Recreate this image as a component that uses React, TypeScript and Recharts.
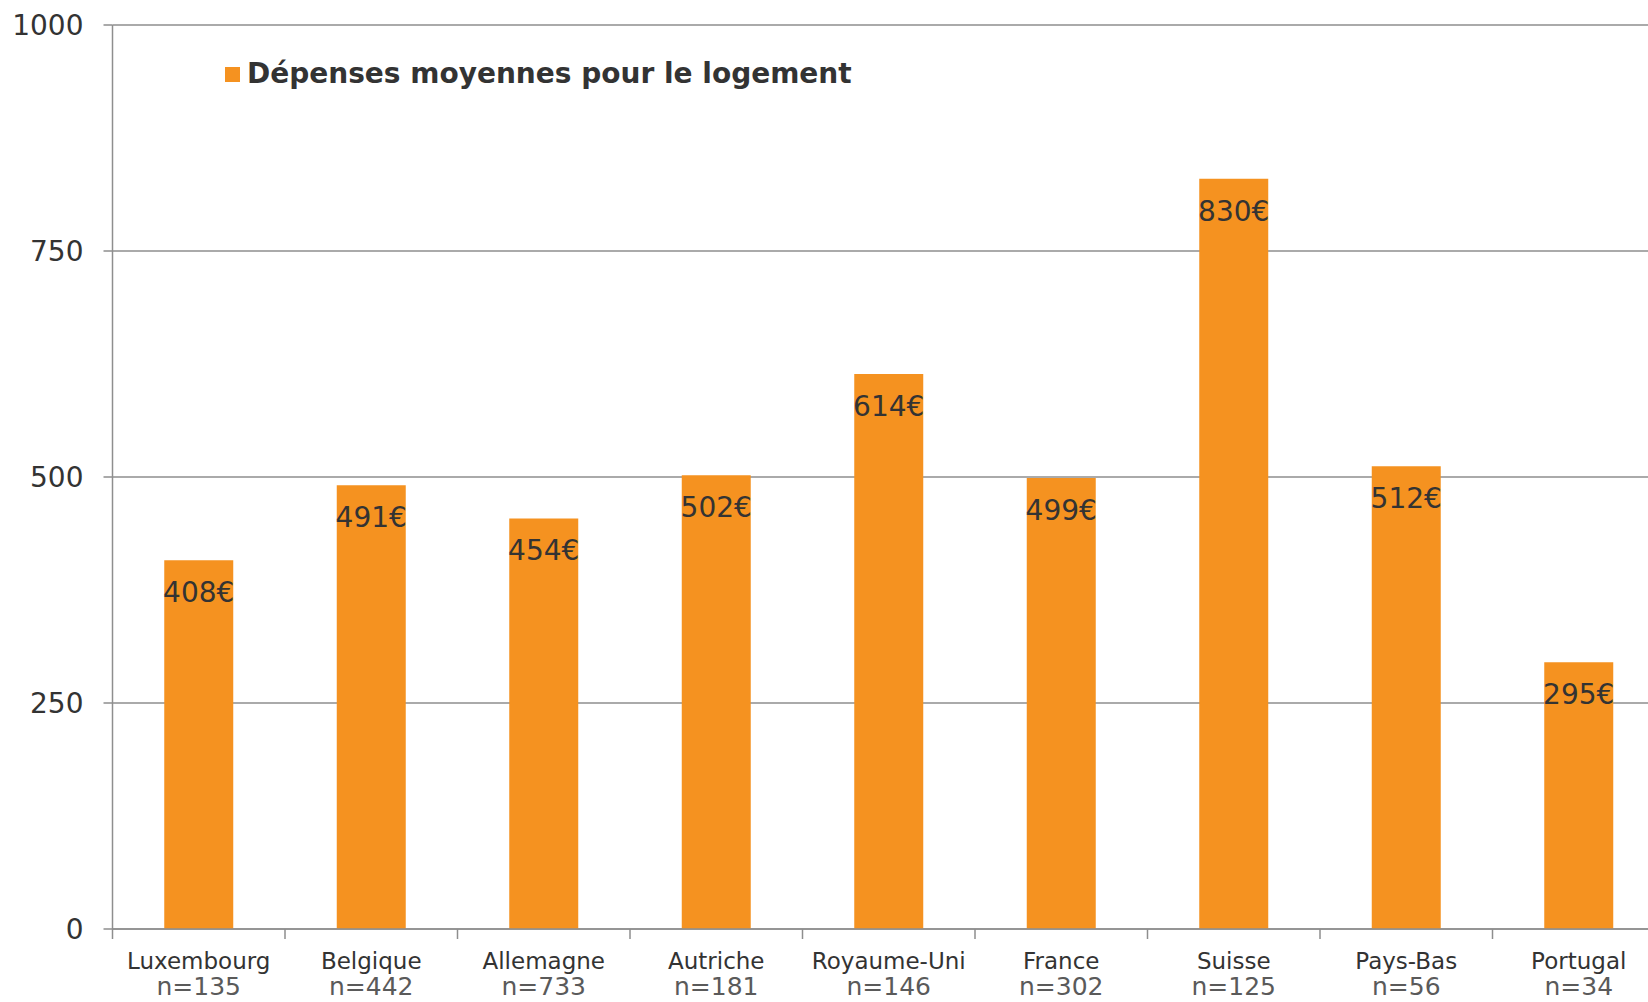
import React from "react";
import { BarChart, Bar, XAxis, YAxis, CartesianGrid, Legend, LabelList } from "recharts";

const countries = ["Luxembourg", "Belgique", "Allemagne", "Autriche", "Royaume-Uni", "France", "Suisse", "Pays-Bas", "Portugal"];
const sampleSizes = ["n=135", "n=442", "n=733", "n=181", "n=146", "n=302", "n=125", "n=56", "n=34"];
const housingSpend = [408, 491, 454, 502, 614, 499, 830, 512, 295];
const yTicks = [0, 250, 500, 750, 1000];
const seriesName = "Dépenses moyennes pour le logement";

const data = countries.map((c, i) => ({ country: c, n: sampleSizes[i], value: housingSpend[i] }));

const CHART_W = 1700;
const CHART_H = 1002;
const MARGIN = { top: 25, right: 35, left: 0, bottom: 0 };
const Y_W = 112.5;
const PLOT_W = CHART_W - MARGIN.left - MARGIN.right - Y_W;
const HALF_BAND = PLOT_W / countries.length / 2;

const AXIS_GREY = "#8e8e8e";
const BAR_COLOR = "#F59220";

const XTick = (props: any) => {
  const { x, y, payload } = props;
  const idx = payload.index;
  return (
    <g>
      <line x1={x - HALF_BAND} x2={x - HALF_BAND} y1={y} y2={y + 10} stroke={AXIS_GREY} strokeWidth={1.5} />
      <text x={x} y={y + 40} textAnchor="middle" fontSize={23} fill="#333">{payload.value}</text>
      <text x={x} y={y + 66} textAnchor="middle" fontSize={25} fill="#5a5a5a">{sampleSizes[idx]}</text>
    </g>
  );
};

const LegendContent = () => (
  <div style={{ display: "flex", alignItems: "center", height: 0, overflow: "visible" }}>
    <div style={{ width: 15, height: 15, background: BAR_COLOR, marginRight: 7, flex: "none" }} />
    <span style={{ fontWeight: "bold", fontSize: 28, color: "#333", fontFamily: "DejaVu Sans", lineHeight: "30px", whiteSpace: "nowrap" }}>{seriesName}</span>
  </div>
);

export default function App() {
  return (
    <div style={{ position: "fixed", left: 0, top: 0, width: 1648, height: 1002, overflow: "hidden", background: "#fff", fontFamily: "DejaVu Sans" }}>
      <BarChart width={CHART_W} height={CHART_H} data={data} margin={MARGIN} barCategoryGap="30%">
        <CartesianGrid vertical={false} stroke={AXIS_GREY} strokeWidth={1.5} />
        <XAxis
          dataKey="country"
          height={73}
          tickLine={false}
          tickSize={0}
          tickMargin={0}
          axisLine={{ stroke: AXIS_GREY, strokeWidth: 1.5 }}
          tick={<XTick />}
          interval={0}
        />
        <YAxis
          width={Y_W}
          domain={[0, 1000]}
          ticks={yTicks}
          tickSize={9}
          tickMargin={20}
          axisLine={{ stroke: AXIS_GREY, strokeWidth: 1.5 }}
          tickLine={{ stroke: AXIS_GREY, strokeWidth: 1.5 }}
          tick={{ fontSize: 28, fill: "#333" }}
        />
        <Legend content={<LegendContent />} wrapperStyle={{ position: "absolute", top: 74, left: 225, width: "auto", height: 0, overflow: "visible" }} />
        <Bar dataKey="value" name={seriesName} fill={BAR_COLOR} isAnimationActive={false}>
          <LabelList dataKey="value" position="insideTop" offset={22} formatter={(v: any) => `${v}€`} fill="#333" fontSize={28} />
        </Bar>
      </BarChart>
    </div>
  );
}
